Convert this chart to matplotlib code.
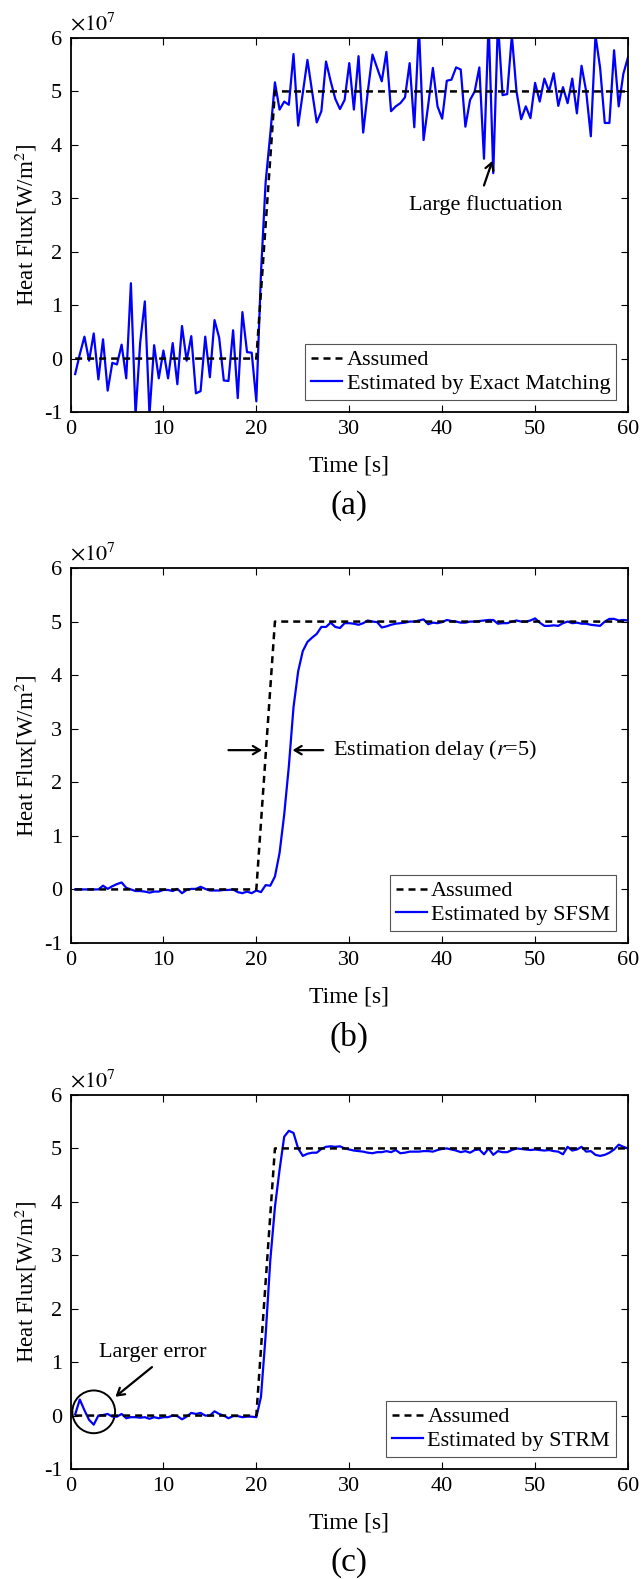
import matplotlib
matplotlib.use("Agg")
import matplotlib.pyplot as plt
import numpy as np
from matplotlib.patches import Ellipse

plt.rcParams["font.family"] = ["Liberation Serif", "DejaVu Serif"]
plt.rcParams["mathtext.fontset"] = "stix"
plt.rcParams["axes.unicode_minus"] = False

# values in units of 1e7 W/m^2, sampled every 0.5 s from 0.5 s to 60 s
EXACT = [
    -0.29, 0.08, 0.41, -0.04, 0.47, -0.39, 0.36, -0.60, -0.08, -0.11,
    0.26, -0.37, 1.41, -1.05, 0.30, 1.07, -1.05, 0.25, -0.37, 0.15,
    -0.37, 0.29, -0.48, 0.61, -0.04, 0.42, -0.65, -0.61, 0.41, -0.35,
    0.72, 0.39, -0.41, -0.42, 0.53, -0.74, 0.87, 0.12, 0.11, -0.80,
    1.60, 3.30, 4.20, 5.17, 4.66, 4.81, 4.75, 5.70, 4.36, 4.97,
    5.59, 5.00, 4.42, 4.63, 5.56, 5.19, 4.86, 4.67, 4.84, 5.53,
    4.66, 5.66, 4.23, 5.00, 5.69, 5.44, 5.19, 5.74, 4.63, 4.72,
    4.78, 4.89, 5.53, 4.33, 6.20, 4.09, 4.75, 5.44, 4.72, 4.49,
    5.20, 5.22, 5.45, 5.41, 4.34, 4.84, 5.00, 5.45, 3.74, 6.30,
    3.47, 6.30, 4.93, 4.95, 6.05, 5.00, 4.48, 4.72, 4.50, 5.16,
    4.81, 5.24, 5.00, 5.34, 4.73, 5.08, 4.78, 5.24, 4.59, 5.48,
    5.00, 4.16, 6.05, 5.44, 4.41, 4.41, 5.77, 4.72, 5.33, 5.64,
]

SFSM = [
    0.00, 0.00, 0.00, 0.00, 0.00, 0.00, 0.07, 0.01, 0.06, 0.10,
    0.13, 0.03, 0.00, -0.03, -0.03, -0.04, -0.06, -0.04, -0.04, -0.01,
    -0.01, -0.03, 0.01, -0.07, -0.01, 0.01, 0.01, 0.05, 0.01, -0.02,
    -0.02, -0.02, -0.01, -0.01, 0.00, -0.05, -0.07, -0.04, -0.07, -0.02,
    -0.05, 0.08, 0.07, 0.24, 0.68, 1.40, 2.30, 3.40, 4.07, 4.45,
    4.62, 4.70, 4.77, 4.90, 4.90, 4.98, 4.90, 4.88, 4.97, 4.97,
    4.96, 4.94, 4.97, 5.02, 5.00, 4.99, 4.89, 4.91, 4.94, 4.96,
    4.97, 4.98, 5.00, 5.00, 5.02, 5.04, 4.95, 4.98, 4.97, 4.99,
    5.03, 5.01, 5.00, 4.98, 4.98, 5.00, 5.00, 5.01, 5.02, 5.03,
    5.03, 4.96, 4.97, 4.97, 5.00, 5.02, 5.00, 5.00, 5.02, 5.06,
    4.98, 4.92, 4.92, 4.93, 4.92, 4.97, 5.00, 4.97, 4.98, 4.96,
    4.96, 4.94, 4.93, 4.92, 5.00, 5.05, 5.05, 5.02, 5.03, 5.02,
]

STRM = [
    0.02, 0.30, 0.10, -0.08, -0.17, 0.00, 0.01, 0.03, -0.02, -0.02,
    0.03, -0.05, -0.03, -0.03, -0.04, -0.03, -0.06, -0.03, -0.05, -0.03,
    -0.03, 0.00, -0.01, -0.07, -0.02, 0.05, 0.03, 0.05, 0.00, 0.00,
    0.08, 0.03, 0.00, -0.05, -0.01, -0.01, -0.03, -0.02, -0.02, -0.03,
    0.35, 1.50, 2.90, 3.90, 4.60, 5.22, 5.33, 5.29, 5.00, 4.86,
    4.90, 4.92, 4.92, 4.99, 5.03, 5.04, 5.03, 5.04, 5.00, 4.98,
    4.96, 4.95, 4.94, 4.92, 4.91, 4.93, 4.93, 4.95, 4.93, 4.97,
    4.91, 4.92, 4.94, 4.94, 4.94, 4.95, 4.95, 4.94, 4.97, 4.99,
    5.00, 4.98, 4.96, 4.93, 4.95, 4.92, 4.97, 4.98, 4.89, 5.00,
    4.88, 4.95, 4.93, 4.93, 4.97, 5.00, 4.99, 4.98, 4.97, 4.98,
    4.97, 4.96, 4.97, 4.95, 4.94, 4.89, 5.03, 4.96, 4.98, 5.03,
    4.94, 4.95, 4.88, 4.86, 4.88, 4.92, 4.98, 5.07, 5.03, 5.00,
]

TIME = np.arange(1, len(EXACT) + 1) * 0.5
ASSUMED_T = [0.5, 20.0, 22.0, 60.0]
ASSUMED_Q = [0.0, 0.0, 5.0, 5.0]

FS = 16
LEFT, WIDTH = 70.5 / 644, 557.5 / 644
PANELS = [
    ("(a)", EXACT, "Estimated by Exact Matching", 38, 412),
    ("(b)", SFSM, "Estimated by SFSM", 568, 943),
    ("(c)", STRM, "Estimated by STRM", 1095, 1469),
]


def draw_panel(fig, tag, values, label, top_px, bottom_px):
    H = 1579.0
    ax = fig.add_axes([LEFT, 1 - bottom_px / H, WIDTH, (bottom_px - top_px) / H])
    est, = ax.plot(TIME, values, color="#0000ff", lw=1.6)
    ass, = ax.plot(ASSUMED_T, ASSUMED_Q, color="k", lw=1.8, dashes=(2.8, 2.0))
    ax.set_xlim(0, 60)
    ax.set_ylim(-1, 6)
    ax.set_xticks(np.arange(0, 61, 10))
    ax.set_yticks(np.arange(-1, 7, 1))
    ax.tick_params(direction="in", top=True, right=True, length=5, width=0.8,
                   labelsize=FS, pad=6)
    for sp in ax.spines.values():
        sp.set_linewidth(1.3)
    ax.set_xlabel("Time [s]", fontsize=17)
    ax.xaxis.set_label_coords(0.5, -0.116)
    ax.set_ylabel("Heat Flux[W/m$^2$]", fontsize=16.6)
    ax.yaxis.set_label_coords(-0.057, 0.5)
    ax.text(0.0, 1.008, r"$\times10^{7}$", transform=ax.transAxes,
            ha="left", va="bottom", fontsize=FS)
    leg = ax.legend([ass, est], ["Assumed", label], loc="lower right",
                    fontsize=FS, frameon=True, fancybox=False, framealpha=1,
                    edgecolor="#555555", borderaxespad=0.55, handlelength=1.4,
                    handletextpad=0.2, labelspacing=0.15, borderpad=0.25)
    leg.get_frame().set_linewidth(0.8)
    fig.text(LEFT + WIDTH / 2, 1 - (bottom_px + 94) / H, tag, ha="center",
             va="center", fontsize=24)
    return ax


fig = plt.figure(figsize=(6.44, 15.79), dpi=100)
axes = [draw_panel(fig, *p) for p in PANELS]

arrow = dict(arrowstyle="->,head_length=0.5,head_width=0.3", color="k", lw=1.6)

ax_a, ax_b, ax_c = axes
ax_a.annotate("", xy=(45.5, 3.75), xytext=(44.4, 3.19), arrowprops=arrow)
ax_a.text(44.7, 2.87, "Large fluctuation", ha="center", va="center", fontsize=FS)

ax_b.annotate("", xy=(20.9, 2.6), xytext=(16.7, 2.6), arrowprops=arrow)
ax_b.annotate("", xy=(23.6, 2.6), xytext=(27.5, 2.6), arrowprops=arrow)
ax_b.text(28.2, 2.6, "Estimation delay ($\\it{r}$=5)", ha="left", va="center",
          fontsize=FS)

ax_c.add_patch(Ellipse((2.5, 0.07), width=4.6, height=0.8, fill=False,
                       edgecolor="k", lw=1.4))
ax_c.annotate("", xy=(4.6, 0.32), xytext=(9.0, 0.94), arrowprops=arrow)
ax_c.text(8.9, 1.18, "Larger error", ha="center", va="center", fontsize=FS)

fig.savefig("out.png", dpi=100)
